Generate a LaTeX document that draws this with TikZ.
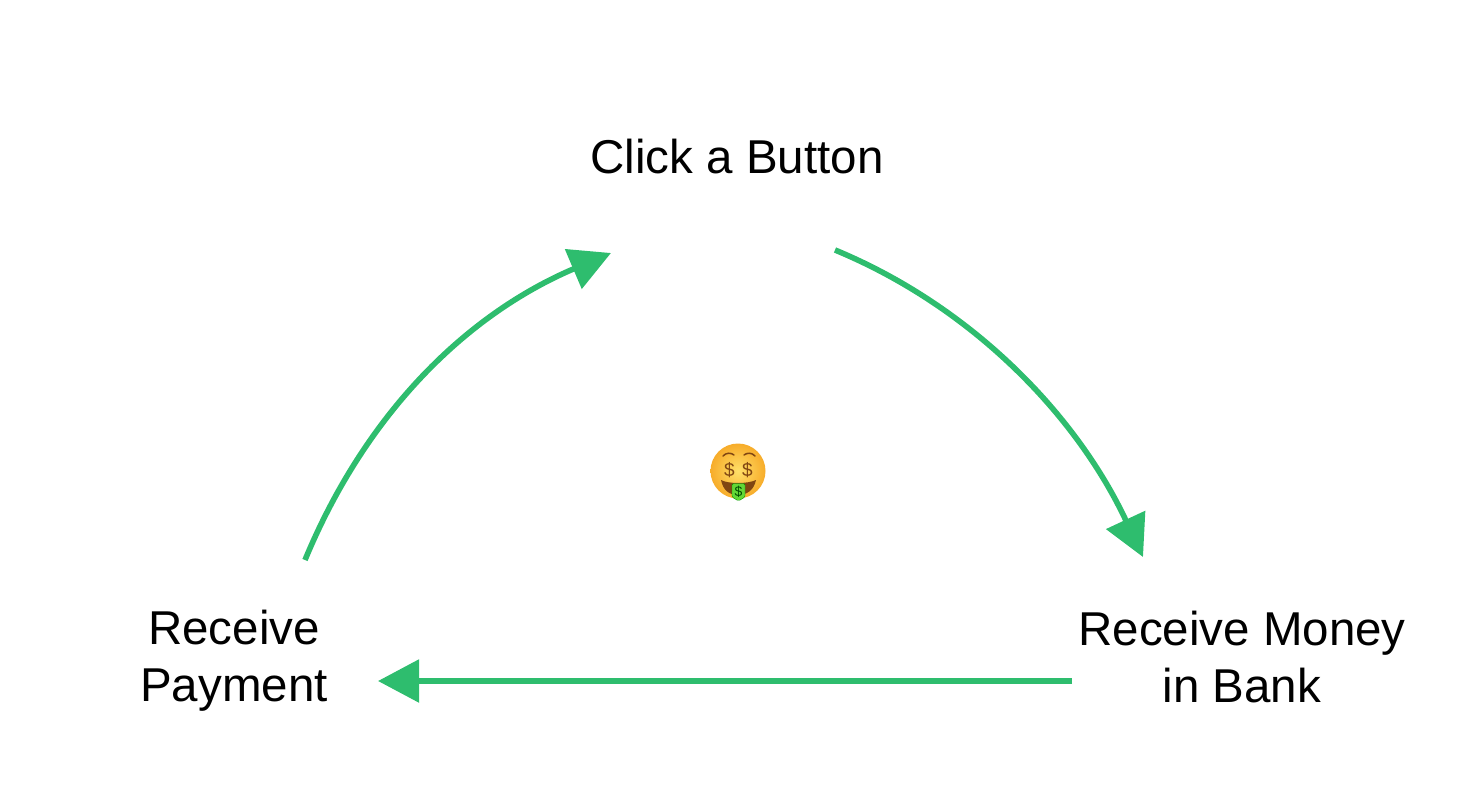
\documentclass[tikz,border=0pt]{standalone}
\usepackage{fontspec}
\setmainfont{Liberation Sans}
\usetikzlibrary{arrows.meta}
\definecolor{mygreen}{RGB}{46,189,110}
\definecolor{facelight}{RGB}{255,224,105}
\definecolor{facedark}{RGB}{247,172,42}
\definecolor{mouthbrown}{RGB}{128,70,18}
\definecolor{billgreen}{RGB}{100,215,55}
\tikzset{
	step label/.style={font=\fontsize{47.5}{57}\selectfont, align=center, text=black},
	cycle arrow/.style={mygreen, line width=5.6pt, -{Triangle[length=41pt,width=42pt]}},
	eye label/.style={font=\fontsize{19}{19}\selectfont, text=mouthbrown, inner sep=0pt},
}
\begin{document}
\begin{tikzpicture}[x=1pt, y=-1pt]
	\useasboundingbox (0,0) rectangle (1473,795);
	% Texte
	\node[step label] (click) at (737,157) {Click a Button};
	\node[step label] (payment) at (234,660.5) {Receive\\Payment};
	\node[step label] (bank) at (1242,657) {Receive Money\\in Bank};
	% Endpunkte
	\coordinate (clickout) at (835,250);
	\coordinate (bankin) at (1143,557);
	\coordinate (bankout) at (1072,681);
	\coordinate (payin) at (378,681);
	\coordinate (payout) at (305,560);
	\coordinate (clickin) at (611,253);
	% Pfeile
	\draw[cycle arrow] (clickout) .. controls (975,308) and (1078,418) .. (bankin);
	\draw[cycle arrow] (bankout) -- (payin);
	\draw[cycle arrow] (payout) .. controls (365,415) and (465,315) .. (clickin);
	% Emoji
	\shade[inner color=facelight, outer color=facedark] (738,471) circle (27.5);
	\draw[mouthbrown, line width=1.5pt, line cap=round] (723,456) .. controls (726,452.5) and (731,452.5) .. (734,455);
	\draw[mouthbrown, line width=1.5pt, line cap=round] (744,455) .. controls (747,452.5) and (752,452.5) .. (755,456);
	\node[eye label] (lefteye) at (729.5,470) {\$};
	\node[eye label] (righteye) at (747.5,470) {\$};
	\fill[mouthbrown] (721,480) .. controls (728,484) and (748,484) .. (756,480) .. controls (754,490) and (747,495) .. (738,495) .. controls (729,495) and (723,490) .. (721,480) -- cycle;
	\fill[billgreen, draw=green!60!black, line width=.4pt, rounded corners=1.5pt] (732,483.5) -- (745,483.5) -- (745,497) -- (738.5,501) -- (732,497) -- cycle;
	\node[font=\fontsize{14}{14}\selectfont, text=green!30!black, inner sep=0pt] (billsign) at (738.5,491.5) {\$};
\end{tikzpicture}
\end{document}
